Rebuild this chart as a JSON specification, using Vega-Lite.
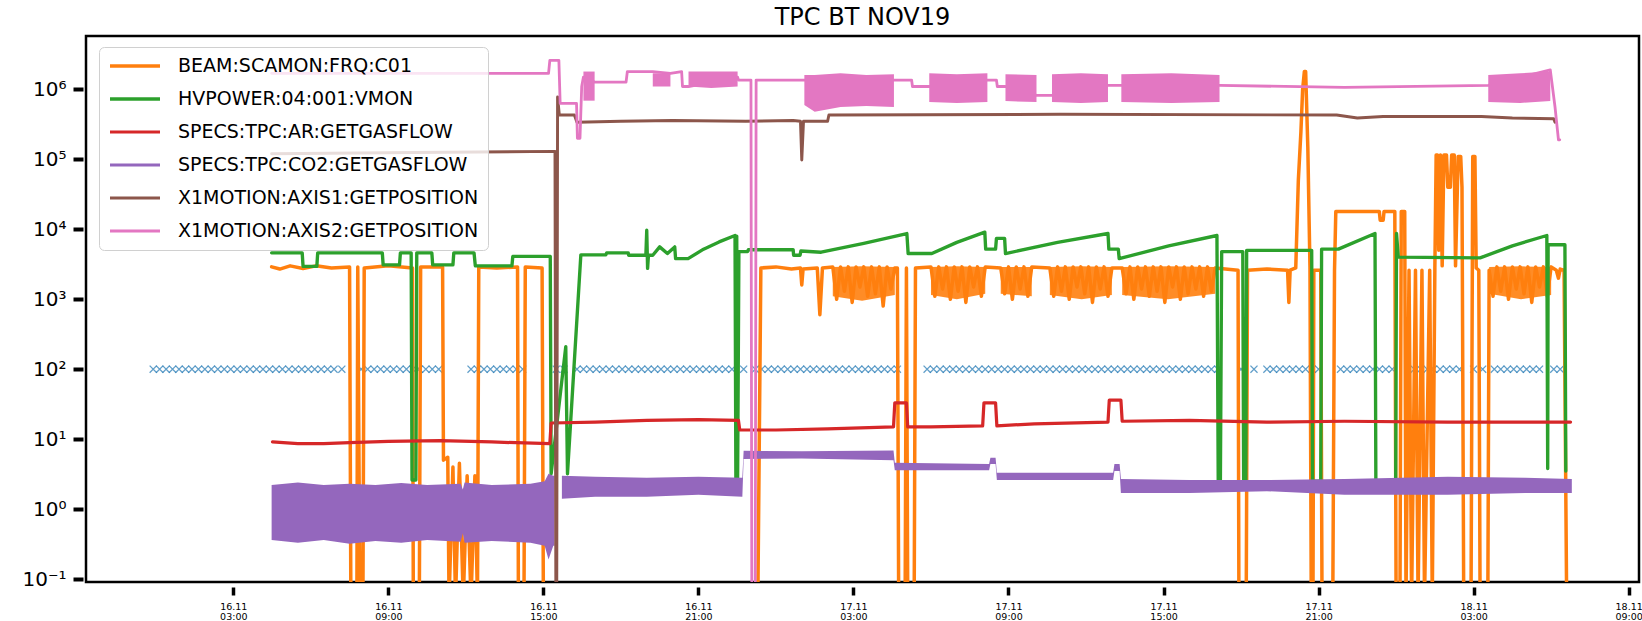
{
  "$schema": "https://vega.github.io/schema/vega-lite/v6.json",
  "width": 1553,
  "height": 546,
  "autosize": {"type": "none"},
  "padding": {"left": 86, "top": 36, "right": 3, "bottom": 39},
  "background": "white",
  "title": {"text": "TPC BT NOV19", "fontSize": 24, "font": "DejaVu Sans", "fontWeight": "normal", "color": "black", "offset": 6, "frame": "group", "anchor": "middle"},
  "config": {
    "view": {"stroke": "black", "strokeWidth": 2.5},
    "font": "DejaVu Sans",
    "legend": {
      "orient": "none", "legendX": 13, "legendY": 11,
      "symbolType": "stroke", "symbolSize": 2500, "symbolStrokeWidth": 3, "clipHeight": 20,
      "labelFontSize": 19, "labelFont": "DejaVu Sans", "labelColor": "black", "labelLimit": 600, "labelOffset": 16,
      "padding": 9, "rowPadding": 13,
      "strokeColor": "#d0d0d0", "fillColor": "rgba(255,255,255,0.8)", "cornerRadius": 5
    }
  },
  "datasets": {
    "lines": [
      {"s":"BEAM:SCAMON:FRQ:C01","t":"2019-11-16T04:29","v":2900},
      {"s":"BEAM:SCAMON:FRQ:C01","t":"2019-11-16T04:48","v":2700},
      {"s":"BEAM:SCAMON:FRQ:C01","t":"2019-11-16T05:12","v":3000},
      {"s":"BEAM:SCAMON:FRQ:C01","t":"2019-11-16T05:42","v":2750},
      {"s":"BEAM:SCAMON:FRQ:C01","t":"2019-11-16T06:12","v":3000},
      {"s":"BEAM:SCAMON:FRQ:C01","t":"2019-11-16T06:48","v":2800},
      {"s":"BEAM:SCAMON:FRQ:C01","t":"2019-11-16T07:30","v":2900},
      {"s":"BEAM:SCAMON:FRQ:C01","t":"2019-11-16T07:33","v":0.05},
      {"s":"BEAM:SCAMON:FRQ:C01","t":"2019-11-16T07:47","v":0.05},
      {"s":"BEAM:SCAMON:FRQ:C01","t":"2019-11-16T07:49","v":2900},
      {"s":"BEAM:SCAMON:FRQ:C01","t":"2019-11-16T07:54","v":0.05},
      {"s":"BEAM:SCAMON:FRQ:C01","t":"2019-11-16T08:01","v":0.05},
      {"s":"BEAM:SCAMON:FRQ:C01","t":"2019-11-16T08:04","v":2800},
      {"s":"BEAM:SCAMON:FRQ:C01","t":"2019-11-16T09:00","v":3000},
      {"s":"BEAM:SCAMON:FRQ:C01","t":"2019-11-16T09:56","v":2800},
      {"s":"BEAM:SCAMON:FRQ:C01","t":"2019-11-16T09:58","v":0.05},
      {"s":"BEAM:SCAMON:FRQ:C01","t":"2019-11-16T10:12","v":0.05},
      {"s":"BEAM:SCAMON:FRQ:C01","t":"2019-11-16T10:15","v":2900},
      {"s":"BEAM:SCAMON:FRQ:C01","t":"2019-11-16T11:06","v":2900},
      {"s":"BEAM:SCAMON:FRQ:C01","t":"2019-11-16T11:08","v":5},
      {"s":"BEAM:SCAMON:FRQ:C01","t":"2019-11-16T11:18","v":5.5},
      {"s":"BEAM:SCAMON:FRQ:C01","t":"2019-11-16T11:21","v":0.05},
      {"s":"BEAM:SCAMON:FRQ:C01","t":"2019-11-16T11:30","v":4},
      {"s":"BEAM:SCAMON:FRQ:C01","t":"2019-11-16T11:36","v":0.05},
      {"s":"BEAM:SCAMON:FRQ:C01","t":"2019-11-16T11:45","v":4.5},
      {"s":"BEAM:SCAMON:FRQ:C01","t":"2019-11-16T11:54","v":0.05},
      {"s":"BEAM:SCAMON:FRQ:C01","t":"2019-11-16T12:03","v":3},
      {"s":"BEAM:SCAMON:FRQ:C01","t":"2019-11-16T12:12","v":0.05},
      {"s":"BEAM:SCAMON:FRQ:C01","t":"2019-11-16T12:21","v":3},
      {"s":"BEAM:SCAMON:FRQ:C01","t":"2019-11-16T12:27","v":0.05},
      {"s":"BEAM:SCAMON:FRQ:C01","t":"2019-11-16T12:30","v":2900},
      {"s":"BEAM:SCAMON:FRQ:C01","t":"2019-11-16T13:12","v":2800},
      {"s":"BEAM:SCAMON:FRQ:C01","t":"2019-11-16T14:00","v":2900},
      {"s":"BEAM:SCAMON:FRQ:C01","t":"2019-11-16T14:02","v":0.05},
      {"s":"BEAM:SCAMON:FRQ:C01","t":"2019-11-16T14:15","v":0.05},
      {"s":"BEAM:SCAMON:FRQ:C01","t":"2019-11-16T14:18","v":2900},
      {"s":"BEAM:SCAMON:FRQ:C01","t":"2019-11-16T14:57","v":2800},
      {"s":"BEAM:SCAMON:FRQ:C01","t":"2019-11-16T15:00","v":0.05},
      {"s":"BEAM:SCAMON:FRQ:C01","t":"2019-11-16T23:18","v":0.05},
      {"s":"BEAM:SCAMON:FRQ:C01","t":"2019-11-16T23:25","v":2800},
      {"s":"BEAM:SCAMON:FRQ:C01","t":"2019-11-17T00:00","v":2900},
      {"s":"BEAM:SCAMON:FRQ:C01","t":"2019-11-17T00:36","v":2700},
      {"s":"BEAM:SCAMON:FRQ:C01","t":"2019-11-17T00:57","v":2800},
      {"s":"BEAM:SCAMON:FRQ:C01","t":"2019-11-17T01:00","v":1600},
      {"s":"BEAM:SCAMON:FRQ:C01","t":"2019-11-17T01:03","v":2700},
      {"s":"BEAM:SCAMON:FRQ:C01","t":"2019-11-17T01:36","v":2800},
      {"s":"BEAM:SCAMON:FRQ:C01","t":"2019-11-17T01:42","v":600},
      {"s":"BEAM:SCAMON:FRQ:C01","t":"2019-11-17T01:48","v":2800},
      {"s":"BEAM:SCAMON:FRQ:C01","t":"2019-11-17T02:12","v":2900},
      {"s":"BEAM:SCAMON:FRQ:C01","t":"2019-11-17T02:21","v":1000},
      {"s":"BEAM:SCAMON:FRQ:C01","t":"2019-11-17T02:30","v":2900},
      {"s":"BEAM:SCAMON:FRQ:C01","t":"2019-11-17T02:39","v":1300},
      {"s":"BEAM:SCAMON:FRQ:C01","t":"2019-11-17T02:48","v":2900},
      {"s":"BEAM:SCAMON:FRQ:C01","t":"2019-11-17T02:57","v":900},
      {"s":"BEAM:SCAMON:FRQ:C01","t":"2019-11-17T03:06","v":2900},
      {"s":"BEAM:SCAMON:FRQ:C01","t":"2019-11-17T03:15","v":1500},
      {"s":"BEAM:SCAMON:FRQ:C01","t":"2019-11-17T03:24","v":2900},
      {"s":"BEAM:SCAMON:FRQ:C01","t":"2019-11-17T03:33","v":1100},
      {"s":"BEAM:SCAMON:FRQ:C01","t":"2019-11-17T03:42","v":2900},
      {"s":"BEAM:SCAMON:FRQ:C01","t":"2019-11-17T03:51","v":1200},
      {"s":"BEAM:SCAMON:FRQ:C01","t":"2019-11-17T04:00","v":2900},
      {"s":"BEAM:SCAMON:FRQ:C01","t":"2019-11-17T04:09","v":800},
      {"s":"BEAM:SCAMON:FRQ:C01","t":"2019-11-17T04:18","v":2900},
      {"s":"BEAM:SCAMON:FRQ:C01","t":"2019-11-17T04:27","v":1400},
      {"s":"BEAM:SCAMON:FRQ:C01","t":"2019-11-17T04:36","v":2800},
      {"s":"BEAM:SCAMON:FRQ:C01","t":"2019-11-17T04:42","v":2800},
      {"s":"BEAM:SCAMON:FRQ:C01","t":"2019-11-17T04:45","v":0.05},
      {"s":"BEAM:SCAMON:FRQ:C01","t":"2019-11-17T05:00","v":0.05},
      {"s":"BEAM:SCAMON:FRQ:C01","t":"2019-11-17T05:03","v":2800},
      {"s":"BEAM:SCAMON:FRQ:C01","t":"2019-11-17T05:06","v":0.05},
      {"s":"BEAM:SCAMON:FRQ:C01","t":"2019-11-17T05:21","v":0.05},
      {"s":"BEAM:SCAMON:FRQ:C01","t":"2019-11-17T05:24","v":2800},
      {"s":"BEAM:SCAMON:FRQ:C01","t":"2019-11-17T06:00","v":2900},
      {"s":"BEAM:SCAMON:FRQ:C01","t":"2019-11-17T06:09","v":1100},
      {"s":"BEAM:SCAMON:FRQ:C01","t":"2019-11-17T06:18","v":2900},
      {"s":"BEAM:SCAMON:FRQ:C01","t":"2019-11-17T06:27","v":1400},
      {"s":"BEAM:SCAMON:FRQ:C01","t":"2019-11-17T06:36","v":2900},
      {"s":"BEAM:SCAMON:FRQ:C01","t":"2019-11-17T06:45","v":1000},
      {"s":"BEAM:SCAMON:FRQ:C01","t":"2019-11-17T06:54","v":2900},
      {"s":"BEAM:SCAMON:FRQ:C01","t":"2019-11-17T07:03","v":1300},
      {"s":"BEAM:SCAMON:FRQ:C01","t":"2019-11-17T07:12","v":2900},
      {"s":"BEAM:SCAMON:FRQ:C01","t":"2019-11-17T07:21","v":900},
      {"s":"BEAM:SCAMON:FRQ:C01","t":"2019-11-17T07:30","v":2900},
      {"s":"BEAM:SCAMON:FRQ:C01","t":"2019-11-17T07:39","v":1500},
      {"s":"BEAM:SCAMON:FRQ:C01","t":"2019-11-17T07:48","v":2900},
      {"s":"BEAM:SCAMON:FRQ:C01","t":"2019-11-17T07:57","v":1100},
      {"s":"BEAM:SCAMON:FRQ:C01","t":"2019-11-17T08:06","v":2900},
      {"s":"BEAM:SCAMON:FRQ:C01","t":"2019-11-17T08:42","v":2800},
      {"s":"BEAM:SCAMON:FRQ:C01","t":"2019-11-17T08:51","v":1200},
      {"s":"BEAM:SCAMON:FRQ:C01","t":"2019-11-17T09:00","v":2900},
      {"s":"BEAM:SCAMON:FRQ:C01","t":"2019-11-17T09:09","v":1000},
      {"s":"BEAM:SCAMON:FRQ:C01","t":"2019-11-17T09:18","v":2900},
      {"s":"BEAM:SCAMON:FRQ:C01","t":"2019-11-17T09:27","v":1400},
      {"s":"BEAM:SCAMON:FRQ:C01","t":"2019-11-17T09:36","v":2900},
      {"s":"BEAM:SCAMON:FRQ:C01","t":"2019-11-17T09:45","v":1100},
      {"s":"BEAM:SCAMON:FRQ:C01","t":"2019-11-17T09:54","v":2900},
      {"s":"BEAM:SCAMON:FRQ:C01","t":"2019-11-17T10:36","v":2800},
      {"s":"BEAM:SCAMON:FRQ:C01","t":"2019-11-17T10:45","v":1100},
      {"s":"BEAM:SCAMON:FRQ:C01","t":"2019-11-17T10:54","v":2900},
      {"s":"BEAM:SCAMON:FRQ:C01","t":"2019-11-17T11:03","v":1300},
      {"s":"BEAM:SCAMON:FRQ:C01","t":"2019-11-17T11:12","v":2900},
      {"s":"BEAM:SCAMON:FRQ:C01","t":"2019-11-17T11:21","v":1000},
      {"s":"BEAM:SCAMON:FRQ:C01","t":"2019-11-17T11:30","v":2900},
      {"s":"BEAM:SCAMON:FRQ:C01","t":"2019-11-17T11:39","v":1500},
      {"s":"BEAM:SCAMON:FRQ:C01","t":"2019-11-17T11:48","v":2900},
      {"s":"BEAM:SCAMON:FRQ:C01","t":"2019-11-17T11:57","v":1200},
      {"s":"BEAM:SCAMON:FRQ:C01","t":"2019-11-17T12:06","v":2900},
      {"s":"BEAM:SCAMON:FRQ:C01","t":"2019-11-17T12:15","v":900},
      {"s":"BEAM:SCAMON:FRQ:C01","t":"2019-11-17T12:24","v":2900},
      {"s":"BEAM:SCAMON:FRQ:C01","t":"2019-11-17T12:33","v":1400},
      {"s":"BEAM:SCAMON:FRQ:C01","t":"2019-11-17T12:42","v":2900},
      {"s":"BEAM:SCAMON:FRQ:C01","t":"2019-11-17T12:51","v":1100},
      {"s":"BEAM:SCAMON:FRQ:C01","t":"2019-11-17T13:00","v":2800},
      {"s":"BEAM:SCAMON:FRQ:C01","t":"2019-11-17T13:24","v":2800},
      {"s":"BEAM:SCAMON:FRQ:C01","t":"2019-11-17T13:33","v":1200},
      {"s":"BEAM:SCAMON:FRQ:C01","t":"2019-11-17T13:42","v":2900},
      {"s":"BEAM:SCAMON:FRQ:C01","t":"2019-11-17T13:51","v":1000},
      {"s":"BEAM:SCAMON:FRQ:C01","t":"2019-11-17T14:00","v":2900},
      {"s":"BEAM:SCAMON:FRQ:C01","t":"2019-11-17T14:09","v":1400},
      {"s":"BEAM:SCAMON:FRQ:C01","t":"2019-11-17T14:18","v":2900},
      {"s":"BEAM:SCAMON:FRQ:C01","t":"2019-11-17T14:27","v":1100},
      {"s":"BEAM:SCAMON:FRQ:C01","t":"2019-11-17T14:36","v":2900},
      {"s":"BEAM:SCAMON:FRQ:C01","t":"2019-11-17T14:45","v":1300},
      {"s":"BEAM:SCAMON:FRQ:C01","t":"2019-11-17T14:54","v":2900},
      {"s":"BEAM:SCAMON:FRQ:C01","t":"2019-11-17T15:03","v":900},
      {"s":"BEAM:SCAMON:FRQ:C01","t":"2019-11-17T15:12","v":2900},
      {"s":"BEAM:SCAMON:FRQ:C01","t":"2019-11-17T15:21","v":1500},
      {"s":"BEAM:SCAMON:FRQ:C01","t":"2019-11-17T15:30","v":2900},
      {"s":"BEAM:SCAMON:FRQ:C01","t":"2019-11-17T15:39","v":1000},
      {"s":"BEAM:SCAMON:FRQ:C01","t":"2019-11-17T15:48","v":2900},
      {"s":"BEAM:SCAMON:FRQ:C01","t":"2019-11-17T15:57","v":1200},
      {"s":"BEAM:SCAMON:FRQ:C01","t":"2019-11-17T16:06","v":2900},
      {"s":"BEAM:SCAMON:FRQ:C01","t":"2019-11-17T16:15","v":1400},
      {"s":"BEAM:SCAMON:FRQ:C01","t":"2019-11-17T16:24","v":2900},
      {"s":"BEAM:SCAMON:FRQ:C01","t":"2019-11-17T16:33","v":1100},
      {"s":"BEAM:SCAMON:FRQ:C01","t":"2019-11-17T16:42","v":2900},
      {"s":"BEAM:SCAMON:FRQ:C01","t":"2019-11-17T16:51","v":1300},
      {"s":"BEAM:SCAMON:FRQ:C01","t":"2019-11-17T17:00","v":2800},
      {"s":"BEAM:SCAMON:FRQ:C01","t":"2019-11-17T17:53","v":2600},
      {"s":"BEAM:SCAMON:FRQ:C01","t":"2019-11-17T17:55","v":0.05},
      {"s":"BEAM:SCAMON:FRQ:C01","t":"2019-11-17T18:12","v":0.05},
      {"s":"BEAM:SCAMON:FRQ:C01","t":"2019-11-17T18:15","v":2600},
      {"s":"BEAM:SCAMON:FRQ:C01","t":"2019-11-17T19:00","v":2700},
      {"s":"BEAM:SCAMON:FRQ:C01","t":"2019-11-17T19:48","v":2600},
      {"s":"BEAM:SCAMON:FRQ:C01","t":"2019-11-17T19:51","v":900},
      {"s":"BEAM:SCAMON:FRQ:C01","t":"2019-11-17T19:54","v":2600},
      {"s":"BEAM:SCAMON:FRQ:C01","t":"2019-11-17T20:07","v":2800},
      {"s":"BEAM:SCAMON:FRQ:C01","t":"2019-11-17T20:13","v":50000},
      {"s":"BEAM:SCAMON:FRQ:C01","t":"2019-11-17T20:19","v":250000},
      {"s":"BEAM:SCAMON:FRQ:C01","t":"2019-11-17T20:23","v":1000000},
      {"s":"BEAM:SCAMON:FRQ:C01","t":"2019-11-17T20:27","v":1800000},
      {"s":"BEAM:SCAMON:FRQ:C01","t":"2019-11-17T20:30","v":1800000},
      {"s":"BEAM:SCAMON:FRQ:C01","t":"2019-11-17T20:35","v":150000},
      {"s":"BEAM:SCAMON:FRQ:C01","t":"2019-11-17T20:40","v":2800},
      {"s":"BEAM:SCAMON:FRQ:C01","t":"2019-11-17T20:43","v":0.05},
      {"s":"BEAM:SCAMON:FRQ:C01","t":"2019-11-17T20:47","v":0.05},
      {"s":"BEAM:SCAMON:FRQ:C01","t":"2019-11-17T20:49","v":2600},
      {"s":"BEAM:SCAMON:FRQ:C01","t":"2019-11-17T21:05","v":2600},
      {"s":"BEAM:SCAMON:FRQ:C01","t":"2019-11-17T21:08","v":0.05},
      {"s":"BEAM:SCAMON:FRQ:C01","t":"2019-11-17T21:33","v":0.05},
      {"s":"BEAM:SCAMON:FRQ:C01","t":"2019-11-17T21:37","v":2600},
      {"s":"BEAM:SCAMON:FRQ:C01","t":"2019-11-17T21:40","v":18000},
      {"s":"BEAM:SCAMON:FRQ:C01","t":"2019-11-17T23:21","v":18000},
      {"s":"BEAM:SCAMON:FRQ:C01","t":"2019-11-17T23:23","v":13500},
      {"s":"BEAM:SCAMON:FRQ:C01","t":"2019-11-17T23:30","v":13500},
      {"s":"BEAM:SCAMON:FRQ:C01","t":"2019-11-17T23:32","v":18000},
      {"s":"BEAM:SCAMON:FRQ:C01","t":"2019-11-17T23:57","v":18000},
      {"s":"BEAM:SCAMON:FRQ:C01","t":"2019-11-18T00:00","v":0.05},
      {"s":"BEAM:SCAMON:FRQ:C01","t":"2019-11-18T00:09","v":0.05},
      {"s":"BEAM:SCAMON:FRQ:C01","t":"2019-11-18T00:12","v":18000},
      {"s":"BEAM:SCAMON:FRQ:C01","t":"2019-11-18T00:20","v":18000},
      {"s":"BEAM:SCAMON:FRQ:C01","t":"2019-11-18T00:23","v":0.05},
      {"s":"BEAM:SCAMON:FRQ:C01","t":"2019-11-18T00:30","v":2600},
      {"s":"BEAM:SCAMON:FRQ:C01","t":"2019-11-18T00:36","v":0.05},
      {"s":"BEAM:SCAMON:FRQ:C01","t":"2019-11-18T00:45","v":2600},
      {"s":"BEAM:SCAMON:FRQ:C01","t":"2019-11-18T00:51","v":0.05},
      {"s":"BEAM:SCAMON:FRQ:C01","t":"2019-11-18T01:00","v":2600},
      {"s":"BEAM:SCAMON:FRQ:C01","t":"2019-11-18T01:06","v":0.05},
      {"s":"BEAM:SCAMON:FRQ:C01","t":"2019-11-18T01:18","v":2600},
      {"s":"BEAM:SCAMON:FRQ:C01","t":"2019-11-18T01:24","v":0.05},
      {"s":"BEAM:SCAMON:FRQ:C01","t":"2019-11-18T01:30","v":2800},
      {"s":"BEAM:SCAMON:FRQ:C01","t":"2019-11-18T01:33","v":115000},
      {"s":"BEAM:SCAMON:FRQ:C01","t":"2019-11-18T01:36","v":115000},
      {"s":"BEAM:SCAMON:FRQ:C01","t":"2019-11-18T01:39","v":5000},
      {"s":"BEAM:SCAMON:FRQ:C01","t":"2019-11-18T01:43","v":115000},
      {"s":"BEAM:SCAMON:FRQ:C01","t":"2019-11-18T01:47","v":3000},
      {"s":"BEAM:SCAMON:FRQ:C01","t":"2019-11-18T01:51","v":115000},
      {"s":"BEAM:SCAMON:FRQ:C01","t":"2019-11-18T01:57","v":115000},
      {"s":"BEAM:SCAMON:FRQ:C01","t":"2019-11-18T02:00","v":40000},
      {"s":"BEAM:SCAMON:FRQ:C01","t":"2019-11-18T02:06","v":40000},
      {"s":"BEAM:SCAMON:FRQ:C01","t":"2019-11-18T02:09","v":115000},
      {"s":"BEAM:SCAMON:FRQ:C01","t":"2019-11-18T02:15","v":115000},
      {"s":"BEAM:SCAMON:FRQ:C01","t":"2019-11-18T02:18","v":3000},
      {"s":"BEAM:SCAMON:FRQ:C01","t":"2019-11-18T02:24","v":110000},
      {"s":"BEAM:SCAMON:FRQ:C01","t":"2019-11-18T02:30","v":110000},
      {"s":"BEAM:SCAMON:FRQ:C01","t":"2019-11-18T02:33","v":40000},
      {"s":"BEAM:SCAMON:FRQ:C01","t":"2019-11-18T02:37","v":0.05},
      {"s":"BEAM:SCAMON:FRQ:C01","t":"2019-11-18T02:54","v":0.05},
      {"s":"BEAM:SCAMON:FRQ:C01","t":"2019-11-18T02:58","v":110000},
      {"s":"BEAM:SCAMON:FRQ:C01","t":"2019-11-18T03:03","v":110000},
      {"s":"BEAM:SCAMON:FRQ:C01","t":"2019-11-18T03:06","v":2800},
      {"s":"BEAM:SCAMON:FRQ:C01","t":"2019-11-18T03:12","v":2600},
      {"s":"BEAM:SCAMON:FRQ:C01","t":"2019-11-18T03:15","v":0.05},
      {"s":"BEAM:SCAMON:FRQ:C01","t":"2019-11-18T03:33","v":0.05},
      {"s":"BEAM:SCAMON:FRQ:C01","t":"2019-11-18T03:36","v":2600},
      {"s":"BEAM:SCAMON:FRQ:C01","t":"2019-11-18T03:45","v":1100},
      {"s":"BEAM:SCAMON:FRQ:C01","t":"2019-11-18T03:54","v":2900},
      {"s":"BEAM:SCAMON:FRQ:C01","t":"2019-11-18T04:03","v":1300},
      {"s":"BEAM:SCAMON:FRQ:C01","t":"2019-11-18T04:12","v":2900},
      {"s":"BEAM:SCAMON:FRQ:C01","t":"2019-11-18T04:21","v":1000},
      {"s":"BEAM:SCAMON:FRQ:C01","t":"2019-11-18T04:30","v":2900},
      {"s":"BEAM:SCAMON:FRQ:C01","t":"2019-11-18T04:39","v":1400},
      {"s":"BEAM:SCAMON:FRQ:C01","t":"2019-11-18T04:48","v":2900},
      {"s":"BEAM:SCAMON:FRQ:C01","t":"2019-11-18T04:57","v":1200},
      {"s":"BEAM:SCAMON:FRQ:C01","t":"2019-11-18T05:06","v":2900},
      {"s":"BEAM:SCAMON:FRQ:C01","t":"2019-11-18T05:15","v":900},
      {"s":"BEAM:SCAMON:FRQ:C01","t":"2019-11-18T05:24","v":2900},
      {"s":"BEAM:SCAMON:FRQ:C01","t":"2019-11-18T05:33","v":1500},
      {"s":"BEAM:SCAMON:FRQ:C01","t":"2019-11-18T05:42","v":2900},
      {"s":"BEAM:SCAMON:FRQ:C01","t":"2019-11-18T05:51","v":1100},
      {"s":"BEAM:SCAMON:FRQ:C01","t":"2019-11-18T06:00","v":2900},
      {"s":"BEAM:SCAMON:FRQ:C01","t":"2019-11-18T06:12","v":2600},
      {"s":"BEAM:SCAMON:FRQ:C01","t":"2019-11-18T06:17","v":2000},
      {"s":"BEAM:SCAMON:FRQ:C01","t":"2019-11-18T06:21","v":2700},
      {"s":"BEAM:SCAMON:FRQ:C01","t":"2019-11-18T06:30","v":2600},
      {"s":"BEAM:SCAMON:FRQ:C01","t":"2019-11-18T06:36","v":0.05},

      {"s":"HVPOWER:04:001:VMON","t":"2019-11-16T04:29","v":4600},
      {"s":"HVPOWER:04:001:VMON","t":"2019-11-16T05:40","v":4600},
      {"s":"HVPOWER:04:001:VMON","t":"2019-11-16T05:42","v":2950},
      {"s":"HVPOWER:04:001:VMON","t":"2019-11-16T06:14","v":2950},
      {"s":"HVPOWER:04:001:VMON","t":"2019-11-16T06:16","v":4600},
      {"s":"HVPOWER:04:001:VMON","t":"2019-11-16T08:46","v":4600},
      {"s":"HVPOWER:04:001:VMON","t":"2019-11-16T08:48","v":3100},
      {"s":"HVPOWER:04:001:VMON","t":"2019-11-16T09:26","v":3100},
      {"s":"HVPOWER:04:001:VMON","t":"2019-11-16T09:28","v":4600},
      {"s":"HVPOWER:04:001:VMON","t":"2019-11-16T09:53","v":4600},
      {"s":"HVPOWER:04:001:VMON","t":"2019-11-16T09:55","v":2.6},
      {"s":"HVPOWER:04:001:VMON","t":"2019-11-16T10:04","v":2.6},
      {"s":"HVPOWER:04:001:VMON","t":"2019-11-16T10:06","v":4600},
      {"s":"HVPOWER:04:001:VMON","t":"2019-11-16T10:41","v":4600},
      {"s":"HVPOWER:04:001:VMON","t":"2019-11-16T10:43","v":3100},
      {"s":"HVPOWER:04:001:VMON","t":"2019-11-16T11:30","v":3100},
      {"s":"HVPOWER:04:001:VMON","t":"2019-11-16T11:32","v":4600},
      {"s":"HVPOWER:04:001:VMON","t":"2019-11-16T12:19","v":4600},
      {"s":"HVPOWER:04:001:VMON","t":"2019-11-16T12:22","v":3000},
      {"s":"HVPOWER:04:001:VMON","t":"2019-11-16T13:47","v":3000},
      {"s":"HVPOWER:04:001:VMON","t":"2019-11-16T13:49","v":4100},
      {"s":"HVPOWER:04:001:VMON","t":"2019-11-16T15:16","v":4100},
      {"s":"HVPOWER:04:001:VMON","t":"2019-11-16T15:18","v":3.2},
      {"s":"HVPOWER:04:001:VMON","t":"2019-11-16T15:52","v":210},
      {"s":"HVPOWER:04:001:VMON","t":"2019-11-16T15:56","v":3.2},
      {"s":"HVPOWER:04:001:VMON","t":"2019-11-16T16:27","v":4300},
      {"s":"HVPOWER:04:001:VMON","t":"2019-11-16T17:25","v":4300},
      {"s":"HVPOWER:04:001:VMON","t":"2019-11-16T17:27","v":4600},
      {"s":"HVPOWER:04:001:VMON","t":"2019-11-16T18:17","v":4600},
      {"s":"HVPOWER:04:001:VMON","t":"2019-11-16T18:18","v":4260},
      {"s":"HVPOWER:04:001:VMON","t":"2019-11-16T18:58","v":4260},
      {"s":"HVPOWER:04:001:VMON","t":"2019-11-16T19:00","v":9700},
      {"s":"HVPOWER:04:001:VMON","t":"2019-11-16T19:02","v":2760},
      {"s":"HVPOWER:04:001:VMON","t":"2019-11-16T19:04","v":4260},
      {"s":"HVPOWER:04:001:VMON","t":"2019-11-16T19:14","v":4260},
      {"s":"HVPOWER:04:001:VMON","t":"2019-11-16T19:30","v":5600},
      {"s":"HVPOWER:04:001:VMON","t":"2019-11-16T19:48","v":4500},
      {"s":"HVPOWER:04:001:VMON","t":"2019-11-16T20:05","v":5600},
      {"s":"HVPOWER:04:001:VMON","t":"2019-11-16T20:07","v":3800},
      {"s":"HVPOWER:04:001:VMON","t":"2019-11-16T20:36","v":3800},
      {"s":"HVPOWER:04:001:VMON","t":"2019-11-16T21:12","v":5200},
      {"s":"HVPOWER:04:001:VMON","t":"2019-11-16T21:48","v":6600},
      {"s":"HVPOWER:04:001:VMON","t":"2019-11-16T22:25","v":8150},
      {"s":"HVPOWER:04:001:VMON","t":"2019-11-16T22:27","v":2.5},
      {"s":"HVPOWER:04:001:VMON","t":"2019-11-16T22:29","v":8000},
      {"s":"HVPOWER:04:001:VMON","t":"2019-11-16T22:31","v":2.5},
      {"s":"HVPOWER:04:001:VMON","t":"2019-11-16T22:34","v":4800},
      {"s":"HVPOWER:04:001:VMON","t":"2019-11-16T22:54","v":4800},
      {"s":"HVPOWER:04:001:VMON","t":"2019-11-16T22:56","v":5100},
      {"s":"HVPOWER:04:001:VMON","t":"2019-11-17T00:40","v":5100},
      {"s":"HVPOWER:04:001:VMON","t":"2019-11-17T00:41","v":4260},
      {"s":"HVPOWER:04:001:VMON","t":"2019-11-17T00:56","v":4260},
      {"s":"HVPOWER:04:001:VMON","t":"2019-11-17T00:58","v":4900},
      {"s":"HVPOWER:04:001:VMON","t":"2019-11-17T01:45","v":4700},
      {"s":"HVPOWER:04:001:VMON","t":"2019-11-17T03:24","v":6300},
      {"s":"HVPOWER:04:001:VMON","t":"2019-11-17T05:04","v":8700},
      {"s":"HVPOWER:04:001:VMON","t":"2019-11-17T05:07","v":4500},
      {"s":"HVPOWER:04:001:VMON","t":"2019-11-17T06:02","v":4500},
      {"s":"HVPOWER:04:001:VMON","t":"2019-11-17T07:00","v":6500},
      {"s":"HVPOWER:04:001:VMON","t":"2019-11-17T08:05","v":9100},
      {"s":"HVPOWER:04:001:VMON","t":"2019-11-17T08:07","v":5200},
      {"s":"HVPOWER:04:001:VMON","t":"2019-11-17T08:30","v":5200},
      {"s":"HVPOWER:04:001:VMON","t":"2019-11-17T08:32","v":7400},
      {"s":"HVPOWER:04:001:VMON","t":"2019-11-17T08:51","v":7400},
      {"s":"HVPOWER:04:001:VMON","t":"2019-11-17T08:53","v":4500},
      {"s":"HVPOWER:04:001:VMON","t":"2019-11-17T10:54","v":6500},
      {"s":"HVPOWER:04:001:VMON","t":"2019-11-17T12:51","v":8700},
      {"s":"HVPOWER:04:001:VMON","t":"2019-11-17T12:53","v":5200},
      {"s":"HVPOWER:04:001:VMON","t":"2019-11-17T13:15","v":5200},
      {"s":"HVPOWER:04:001:VMON","t":"2019-11-17T13:17","v":3800},
      {"s":"HVPOWER:04:001:VMON","t":"2019-11-17T15:12","v":5800},
      {"s":"HVPOWER:04:001:VMON","t":"2019-11-17T17:04","v":8150},
      {"s":"HVPOWER:04:001:VMON","t":"2019-11-17T17:07","v":2.5},
      {"s":"HVPOWER:04:001:VMON","t":"2019-11-17T17:12","v":2.5},
      {"s":"HVPOWER:04:001:VMON","t":"2019-11-17T17:15","v":4800},
      {"s":"HVPOWER:04:001:VMON","t":"2019-11-17T18:04","v":4800},
      {"s":"HVPOWER:04:001:VMON","t":"2019-11-17T18:06","v":2.5},
      {"s":"HVPOWER:04:001:VMON","t":"2019-11-17T18:11","v":2.5},
      {"s":"HVPOWER:04:001:VMON","t":"2019-11-17T18:13","v":5000},
      {"s":"HVPOWER:04:001:VMON","t":"2019-11-17T20:44","v":5000},
      {"s":"HVPOWER:04:001:VMON","t":"2019-11-17T20:46","v":2.5},
      {"s":"HVPOWER:04:001:VMON","t":"2019-11-17T21:05","v":2.5},
      {"s":"HVPOWER:04:001:VMON","t":"2019-11-17T21:07","v":5200},
      {"s":"HVPOWER:04:001:VMON","t":"2019-11-17T21:46","v":5200},
      {"s":"HVPOWER:04:001:VMON","t":"2019-11-17T23:11","v":8700},
      {"s":"HVPOWER:04:001:VMON","t":"2019-11-17T23:13","v":2.5},
      {"s":"HVPOWER:04:001:VMON","t":"2019-11-17T23:59","v":2.5},
      {"s":"HVPOWER:04:001:VMON","t":"2019-11-18T00:01","v":8700},
      {"s":"HVPOWER:04:001:VMON","t":"2019-11-18T00:05","v":4000},
      {"s":"HVPOWER:04:001:VMON","t":"2019-11-18T03:15","v":3900},
      {"s":"HVPOWER:04:001:VMON","t":"2019-11-18T04:30","v":5800},
      {"s":"HVPOWER:04:001:VMON","t":"2019-11-18T05:50","v":8150},
      {"s":"HVPOWER:04:001:VMON","t":"2019-11-18T05:52","v":3.8},
      {"s":"HVPOWER:04:001:VMON","t":"2019-11-18T05:53","v":6000},
      {"s":"HVPOWER:04:001:VMON","t":"2019-11-18T06:32","v":6000},
      {"s":"HVPOWER:04:001:VMON","t":"2019-11-18T06:34","v":3.5},

      {"s":"SPECS:TPC:AR:GETGASFLOW","t":"2019-11-16T04:31","v":9.1},
      {"s":"SPECS:TPC:AR:GETGASFLOW","t":"2019-11-16T05:30","v":8.6},
      {"s":"SPECS:TPC:AR:GETGASFLOW","t":"2019-11-16T06:30","v":8.6},
      {"s":"SPECS:TPC:AR:GETGASFLOW","t":"2019-11-16T07:30","v":8.9},
      {"s":"SPECS:TPC:AR:GETGASFLOW","t":"2019-11-16T09:00","v":9.3},
      {"s":"SPECS:TPC:AR:GETGASFLOW","t":"2019-11-16T11:00","v":9.5},
      {"s":"SPECS:TPC:AR:GETGASFLOW","t":"2019-11-16T13:00","v":9.1},
      {"s":"SPECS:TPC:AR:GETGASFLOW","t":"2019-11-16T15:15","v":8.6},
      {"s":"SPECS:TPC:AR:GETGASFLOW","t":"2019-11-16T15:18","v":17},
      {"s":"SPECS:TPC:AR:GETGASFLOW","t":"2019-11-16T17:00","v":17.5},
      {"s":"SPECS:TPC:AR:GETGASFLOW","t":"2019-11-16T19:00","v":18.5},
      {"s":"SPECS:TPC:AR:GETGASFLOW","t":"2019-11-16T21:00","v":19},
      {"s":"SPECS:TPC:AR:GETGASFLOW","t":"2019-11-16T22:33","v":18.5},
      {"s":"SPECS:TPC:AR:GETGASFLOW","t":"2019-11-16T22:36","v":13.5},
      {"s":"SPECS:TPC:AR:GETGASFLOW","t":"2019-11-17T00:00","v":13.5},
      {"s":"SPECS:TPC:AR:GETGASFLOW","t":"2019-11-17T02:00","v":14},
      {"s":"SPECS:TPC:AR:GETGASFLOW","t":"2019-11-17T04:33","v":15},
      {"s":"SPECS:TPC:AR:GETGASFLOW","t":"2019-11-17T04:36","v":33},
      {"s":"SPECS:TPC:AR:GETGASFLOW","t":"2019-11-17T05:03","v":33},
      {"s":"SPECS:TPC:AR:GETGASFLOW","t":"2019-11-17T05:06","v":15},
      {"s":"SPECS:TPC:AR:GETGASFLOW","t":"2019-11-17T06:00","v":15},
      {"s":"SPECS:TPC:AR:GETGASFLOW","t":"2019-11-17T08:00","v":15.5},
      {"s":"SPECS:TPC:AR:GETGASFLOW","t":"2019-11-17T08:03","v":33},
      {"s":"SPECS:TPC:AR:GETGASFLOW","t":"2019-11-17T08:30","v":33},
      {"s":"SPECS:TPC:AR:GETGASFLOW","t":"2019-11-17T08:33","v":15.5},
      {"s":"SPECS:TPC:AR:GETGASFLOW","t":"2019-11-17T10:00","v":16.5},
      {"s":"SPECS:TPC:AR:GETGASFLOW","t":"2019-11-17T12:51","v":17.5},
      {"s":"SPECS:TPC:AR:GETGASFLOW","t":"2019-11-17T12:54","v":36},
      {"s":"SPECS:TPC:AR:GETGASFLOW","t":"2019-11-17T13:21","v":36},
      {"s":"SPECS:TPC:AR:GETGASFLOW","t":"2019-11-17T13:24","v":18},
      {"s":"SPECS:TPC:AR:GETGASFLOW","t":"2019-11-17T16:00","v":18.5},
      {"s":"SPECS:TPC:AR:GETGASFLOW","t":"2019-11-17T19:00","v":17.5},
      {"s":"SPECS:TPC:AR:GETGASFLOW","t":"2019-11-17T22:00","v":18},
      {"s":"SPECS:TPC:AR:GETGASFLOW","t":"2019-11-18T02:00","v":17.5},
      {"s":"SPECS:TPC:AR:GETGASFLOW","t":"2019-11-18T06:45","v":17.5},

      {"s":"X1MOTION:AXIS1:GETPOSITION","t":"2019-11-16T04:29","v":120000},
      {"s":"X1MOTION:AXIS1:GETPOSITION","t":"2019-11-16T10:00","v":125000},
      {"s":"X1MOTION:AXIS1:GETPOSITION","t":"2019-11-16T15:27","v":130000},
      {"s":"X1MOTION:AXIS1:GETPOSITION","t":"2019-11-16T15:29","v":0.05},
      {"s":"X1MOTION:AXIS1:GETPOSITION","t":"2019-11-16T15:31","v":0.05},
      {"s":"X1MOTION:AXIS1:GETPOSITION","t":"2019-11-16T15:33","v":780000},
      {"s":"X1MOTION:AXIS1:GETPOSITION","t":"2019-11-16T15:37","v":430000},
      {"s":"X1MOTION:AXIS1:GETPOSITION","t":"2019-11-16T16:12","v":430000},
      {"s":"X1MOTION:AXIS1:GETPOSITION","t":"2019-11-16T16:18","v":340000},
      {"s":"X1MOTION:AXIS1:GETPOSITION","t":"2019-11-16T18:00","v":350000},
      {"s":"X1MOTION:AXIS1:GETPOSITION","t":"2019-11-16T20:00","v":360000},
      {"s":"X1MOTION:AXIS1:GETPOSITION","t":"2019-11-16T22:50","v":350000},
      {"s":"X1MOTION:AXIS1:GETPOSITION","t":"2019-11-17T00:40","v":360000},
      {"s":"X1MOTION:AXIS1:GETPOSITION","t":"2019-11-17T00:57","v":350000},
      {"s":"X1MOTION:AXIS1:GETPOSITION","t":"2019-11-17T01:00","v":98000},
      {"s":"X1MOTION:AXIS1:GETPOSITION","t":"2019-11-17T01:04","v":350000},
      {"s":"X1MOTION:AXIS1:GETPOSITION","t":"2019-11-17T02:00","v":350000},
      {"s":"X1MOTION:AXIS1:GETPOSITION","t":"2019-11-17T02:03","v":430000},
      {"s":"X1MOTION:AXIS1:GETPOSITION","t":"2019-11-17T11:00","v":440000},
      {"s":"X1MOTION:AXIS1:GETPOSITION","t":"2019-11-17T21:42","v":430000},
      {"s":"X1MOTION:AXIS1:GETPOSITION","t":"2019-11-17T22:30","v":390000},
      {"s":"X1MOTION:AXIS1:GETPOSITION","t":"2019-11-17T23:30","v":410000},
      {"s":"X1MOTION:AXIS1:GETPOSITION","t":"2019-11-18T03:18","v":410000},
      {"s":"X1MOTION:AXIS1:GETPOSITION","t":"2019-11-18T04:30","v":390000},
      {"s":"X1MOTION:AXIS1:GETPOSITION","t":"2019-11-18T06:06","v":380000},
      {"s":"X1MOTION:AXIS1:GETPOSITION","t":"2019-11-18T06:09","v":340000},

      {"s":"X1MOTION:AXIS2:GETPOSITION","t":"2019-11-16T04:29","v":1700000},
      {"s":"X1MOTION:AXIS2:GETPOSITION","t":"2019-11-16T15:12","v":1700000},
      {"s":"X1MOTION:AXIS2:GETPOSITION","t":"2019-11-16T15:15","v":2600000},
      {"s":"X1MOTION:AXIS2:GETPOSITION","t":"2019-11-16T15:36","v":2600000},
      {"s":"X1MOTION:AXIS2:GETPOSITION","t":"2019-11-16T15:39","v":630000},
      {"s":"X1MOTION:AXIS2:GETPOSITION","t":"2019-11-16T16:17","v":630000},
      {"s":"X1MOTION:AXIS2:GETPOSITION","t":"2019-11-16T16:19","v":200000},
      {"s":"X1MOTION:AXIS2:GETPOSITION","t":"2019-11-16T16:25","v":200000},
      {"s":"X1MOTION:AXIS2:GETPOSITION","t":"2019-11-16T16:29","v":1100000},
      {"s":"X1MOTION:AXIS2:GETPOSITION","t":"2019-11-16T16:33","v":1500000},
      {"s":"X1MOTION:AXIS2:GETPOSITION","t":"2019-11-16T16:59","v":1270000},
      {"s":"X1MOTION:AXIS2:GETPOSITION","t":"2019-11-16T18:12","v":1270000},
      {"s":"X1MOTION:AXIS2:GETPOSITION","t":"2019-11-16T18:15","v":1800000},
      {"s":"X1MOTION:AXIS2:GETPOSITION","t":"2019-11-16T19:14","v":1800000},
      {"s":"X1MOTION:AXIS2:GETPOSITION","t":"2019-11-16T19:55","v":1700000},
      {"s":"X1MOTION:AXIS2:GETPOSITION","t":"2019-11-16T20:21","v":1800000},
      {"s":"X1MOTION:AXIS2:GETPOSITION","t":"2019-11-16T20:23","v":1100000},
      {"s":"X1MOTION:AXIS2:GETPOSITION","t":"2019-11-16T20:37","v":1100000},
      {"s":"X1MOTION:AXIS2:GETPOSITION","t":"2019-11-16T22:31","v":1500000},
      {"s":"X1MOTION:AXIS2:GETPOSITION","t":"2019-11-16T22:33","v":1360000},
      {"s":"X1MOTION:AXIS2:GETPOSITION","t":"2019-11-16T23:02","v":1360000},
      {"s":"X1MOTION:AXIS2:GETPOSITION","t":"2019-11-16T23:04","v":0.05},
      {"s":"X1MOTION:AXIS2:GETPOSITION","t":"2019-11-16T23:12","v":0.05},
      {"s":"X1MOTION:AXIS2:GETPOSITION","t":"2019-11-16T23:14","v":1360000},
      {"s":"X1MOTION:AXIS2:GETPOSITION","t":"2019-11-17T01:06","v":1360000},
      {"s":"X1MOTION:AXIS2:GETPOSITION","t":"2019-11-17T04:34","v":1360000},
      {"s":"X1MOTION:AXIS2:GETPOSITION","t":"2019-11-17T05:15","v":1360000},
      {"s":"X1MOTION:AXIS2:GETPOSITION","t":"2019-11-17T05:17","v":1100000},
      {"s":"X1MOTION:AXIS2:GETPOSITION","t":"2019-11-17T05:56","v":1100000},
      {"s":"X1MOTION:AXIS2:GETPOSITION","t":"2019-11-17T08:11","v":1360000},
      {"s":"X1MOTION:AXIS2:GETPOSITION","t":"2019-11-17T08:32","v":1360000},
      {"s":"X1MOTION:AXIS2:GETPOSITION","t":"2019-11-17T08:34","v":1100000},
      {"s":"X1MOTION:AXIS2:GETPOSITION","t":"2019-11-17T08:53","v":1100000},
      {"s":"X1MOTION:AXIS2:GETPOSITION","t":"2019-11-17T10:05","v":820000},
      {"s":"X1MOTION:AXIS2:GETPOSITION","t":"2019-11-17T10:41","v":820000},
      {"s":"X1MOTION:AXIS2:GETPOSITION","t":"2019-11-17T12:51","v":1140000},
      {"s":"X1MOTION:AXIS2:GETPOSITION","t":"2019-11-17T13:22","v":1140000},
      {"s":"X1MOTION:AXIS2:GETPOSITION","t":"2019-11-17T17:10","v":1140000},
      {"s":"X1MOTION:AXIS2:GETPOSITION","t":"2019-11-17T22:00","v":1070000},
      {"s":"X1MOTION:AXIS2:GETPOSITION","t":"2019-11-18T03:34","v":1140000},
      {"s":"X1MOTION:AXIS2:GETPOSITION","t":"2019-11-18T05:58","v":1900000},
      {"s":"X1MOTION:AXIS2:GETPOSITION","t":"2019-11-18T06:09","v":560000},
      {"s":"X1MOTION:AXIS2:GETPOSITION","t":"2019-11-18T06:17","v":190000},
      {"s":"X1MOTION:AXIS2:GETPOSITION","t":"2019-11-18T06:20","v":190000}
    ],
    "orangeband": [
      {"g":1,"t":"2019-11-17T02:12","lo":1100,"hi":2900},
      {"g":1,"t":"2019-11-17T03:20","lo":950,"hi":2950},
      {"g":1,"t":"2019-11-17T04:36","lo":1150,"hi":2900},
      {"g":2,"t":"2019-11-17T06:00","lo":1150,"hi":2900},
      {"g":2,"t":"2019-11-17T07:00","lo":1000,"hi":2950},
      {"g":2,"t":"2019-11-17T08:06","lo":1200,"hi":2900},
      {"g":3,"t":"2019-11-17T08:42","lo":1200,"hi":2900},
      {"g":3,"t":"2019-11-17T09:54","lo":1100,"hi":2900},
      {"g":4,"t":"2019-11-17T10:36","lo":1150,"hi":2900},
      {"g":4,"t":"2019-11-17T11:50","lo":1000,"hi":2950},
      {"g":4,"t":"2019-11-17T13:00","lo":1150,"hi":2900},
      {"g":5,"t":"2019-11-17T13:24","lo":1150,"hi":2900},
      {"g":5,"t":"2019-11-17T15:10","lo":1000,"hi":2950},
      {"g":5,"t":"2019-11-17T17:00","lo":1200,"hi":2900},
      {"g":6,"t":"2019-11-18T03:36","lo":1200,"hi":2900},
      {"g":6,"t":"2019-11-18T04:50","lo":1000,"hi":2950},
      {"g":6,"t":"2019-11-18T06:00","lo":1150,"hi":2900}
    ],
    "purple": [
      {"g":1,"t":"2019-11-16T04:29","lo":0.36,"hi":2.2},
      {"g":1,"t":"2019-11-16T05:30","lo":0.33,"hi":2.4},
      {"g":1,"t":"2019-11-16T06:30","lo":0.36,"hi":2.2},
      {"g":1,"t":"2019-11-16T07:30","lo":0.32,"hi":2.3},
      {"g":1,"t":"2019-11-16T08:30","lo":0.35,"hi":2.2},
      {"g":1,"t":"2019-11-16T09:30","lo":0.33,"hi":2.35},
      {"g":1,"t":"2019-11-16T10:30","lo":0.36,"hi":2.2},
      {"g":1,"t":"2019-11-16T11:48","lo":0.34,"hi":2.3},
      {"g":1,"t":"2019-11-16T11:53","lo":0.45,"hi":1.9},
      {"g":1,"t":"2019-11-16T11:57","lo":0.33,"hi":2.4},
      {"g":1,"t":"2019-11-16T13:00","lo":0.35,"hi":2.2},
      {"g":1,"t":"2019-11-16T14:30","lo":0.33,"hi":2.3},
      {"g":1,"t":"2019-11-16T15:03","lo":0.3,"hi":2.5},
      {"g":1,"t":"2019-11-16T15:12","lo":0.19,"hi":3.2},
      {"g":1,"t":"2019-11-16T15:23","lo":0.3,"hi":3.0},
      {"g":1,"t":"2019-11-16T15:26","lo":0.3,"hi":3.0},
      {"g":2,"t":"2019-11-16T15:43","lo":1.4,"hi":3.0},
      {"g":2,"t":"2019-11-16T17:00","lo":1.5,"hi":2.9},
      {"g":2,"t":"2019-11-16T19:00","lo":1.5,"hi":2.8},
      {"g":2,"t":"2019-11-16T21:00","lo":1.6,"hi":2.9},
      {"g":2,"t":"2019-11-16T22:42","lo":1.5,"hi":2.8},
      {"g":2,"t":"2019-11-16T22:45","lo":5.2,"hi":6.8},
      {"g":2,"t":"2019-11-17T01:00","lo":5.3,"hi":6.7},
      {"g":2,"t":"2019-11-17T04:33","lo":5.0,"hi":6.9},
      {"g":2,"t":"2019-11-17T04:36","lo":3.6,"hi":4.6},
      {"g":2,"t":"2019-11-17T08:15","lo":3.6,"hi":4.4},
      {"g":2,"t":"2019-11-17T08:18","lo":4.4,"hi":5.4},
      {"g":2,"t":"2019-11-17T08:30","lo":4.4,"hi":5.4},
      {"g":2,"t":"2019-11-17T08:33","lo":2.6,"hi":3.3},
      {"g":2,"t":"2019-11-17T13:03","lo":2.6,"hi":3.3},
      {"g":2,"t":"2019-11-17T13:06","lo":3.5,"hi":4.4},
      {"g":2,"t":"2019-11-17T13:18","lo":3.5,"hi":4.4},
      {"g":2,"t":"2019-11-17T13:21","lo":1.7,"hi":2.7},
      {"g":2,"t":"2019-11-17T16:00","lo":1.7,"hi":2.6},
      {"g":2,"t":"2019-11-17T19:00","lo":1.8,"hi":2.6},
      {"g":2,"t":"2019-11-17T22:00","lo":1.6,"hi":2.7},
      {"g":2,"t":"2019-11-18T02:00","lo":1.6,"hi":2.9},
      {"g":2,"t":"2019-11-18T05:00","lo":1.7,"hi":2.8},
      {"g":2,"t":"2019-11-18T06:48","lo":1.7,"hi":2.7}
    ],
    "pinkband": [
      {"g":"a","t":"2019-11-16T16:33","lo":690000,"hi":1800000},
      {"g":"a","t":"2019-11-16T16:59","lo":690000,"hi":1800000},
      {"g":"b","t":"2019-11-16T19:14","lo":1100000,"hi":1700000},
      {"g":"b","t":"2019-11-16T19:55","lo":1100000,"hi":1700000},
      {"g":"c","t":"2019-11-16T20:37","lo":1100000,"hi":1800000},
      {"g":"c","t":"2019-11-16T21:30","lo":1050000,"hi":1800000},
      {"g":"c","t":"2019-11-16T22:31","lo":1100000,"hi":1800000},
      {"g":"d","t":"2019-11-17T01:06","lo":600000,"hi":1600000},
      {"g":"d","t":"2019-11-17T01:30","lo":480000,"hi":1600000},
      {"g":"d","t":"2019-11-17T02:30","lo":560000,"hi":1700000},
      {"g":"d","t":"2019-11-17T03:30","lo":580000,"hi":1600000},
      {"g":"d","t":"2019-11-17T04:34","lo":560000,"hi":1650000},
      {"g":"e","t":"2019-11-17T05:56","lo":660000,"hi":1700000},
      {"g":"e","t":"2019-11-17T07:00","lo":640000,"hi":1650000},
      {"g":"e","t":"2019-11-17T08:11","lo":660000,"hi":1700000},
      {"g":"f","t":"2019-11-17T08:53","lo":680000,"hi":1650000},
      {"g":"f","t":"2019-11-17T10:05","lo":660000,"hi":1600000},
      {"g":"g","t":"2019-11-17T10:41","lo":660000,"hi":1650000},
      {"g":"g","t":"2019-11-17T11:48","lo":640000,"hi":1700000},
      {"g":"g","t":"2019-11-17T12:51","lo":660000,"hi":1650000},
      {"g":"h","t":"2019-11-17T13:22","lo":660000,"hi":1650000},
      {"g":"h","t":"2019-11-17T15:18","lo":640000,"hi":1700000},
      {"g":"h","t":"2019-11-17T17:10","lo":660000,"hi":1600000},
      {"g":"i","t":"2019-11-18T03:34","lo":660000,"hi":1600000},
      {"g":"i","t":"2019-11-18T04:48","lo":640000,"hi":1700000},
      {"g":"i","t":"2019-11-18T05:58","lo":680000,"hi":1800000}
    ],
    "marks": [
      {"t":"2019-11-15T23:54"},{"t":"2019-11-16T00:09"},{"t":"2019-11-16T00:24"},{"t":"2019-11-16T00:39"},{"t":"2019-11-16T00:54"},
      {"t":"2019-11-16T01:09"},{"t":"2019-11-16T01:24"},{"t":"2019-11-16T01:39"},{"t":"2019-11-16T01:54"},{"t":"2019-11-16T02:09"},
      {"t":"2019-11-16T02:24"},{"t":"2019-11-16T02:39"},{"t":"2019-11-16T02:54"},{"t":"2019-11-16T03:09"},{"t":"2019-11-16T03:24"},
      {"t":"2019-11-16T03:39"},{"t":"2019-11-16T03:54"},{"t":"2019-11-16T04:09"},{"t":"2019-11-16T04:24"},{"t":"2019-11-16T04:39"},
      {"t":"2019-11-16T04:54"},{"t":"2019-11-16T05:09"},{"t":"2019-11-16T05:24"},{"t":"2019-11-16T05:39"},{"t":"2019-11-16T05:54"},
      {"t":"2019-11-16T06:09"},{"t":"2019-11-16T06:24"},{"t":"2019-11-16T06:39"},{"t":"2019-11-16T06:54"},
      {"t":"2019-11-16T07:12"},
      {"t":"2019-11-16T07:57"},{"t":"2019-11-16T08:12"},{"t":"2019-11-16T08:27"},{"t":"2019-11-16T08:42"},{"t":"2019-11-16T08:57"},
      {"t":"2019-11-16T09:12"},{"t":"2019-11-16T09:27"},{"t":"2019-11-16T09:42"},{"t":"2019-11-16T09:57"},{"t":"2019-11-16T10:12"},
      {"t":"2019-11-16T10:27"},{"t":"2019-11-16T10:42"},{"t":"2019-11-16T10:57"},
      {"t":"2019-11-16T12:12"},{"t":"2019-11-16T12:27"},{"t":"2019-11-16T12:42"},{"t":"2019-11-16T12:57"},{"t":"2019-11-16T13:12"},
      {"t":"2019-11-16T13:27"},{"t":"2019-11-16T13:42"},{"t":"2019-11-16T13:57"},{"t":"2019-11-16T14:12"},
      {"t":"2019-11-16T15:30"},{"t":"2019-11-16T15:48"},
      {"t":"2019-11-16T16:18"},{"t":"2019-11-16T16:33"},{"t":"2019-11-16T16:48"},{"t":"2019-11-16T17:03"},{"t":"2019-11-16T17:18"},
      {"t":"2019-11-16T17:33"},{"t":"2019-11-16T17:48"},{"t":"2019-11-16T18:03"},{"t":"2019-11-16T18:18"},{"t":"2019-11-16T18:33"},
      {"t":"2019-11-16T18:48"},{"t":"2019-11-16T19:03"},{"t":"2019-11-16T19:18"},{"t":"2019-11-16T19:33"},{"t":"2019-11-16T19:48"},
      {"t":"2019-11-16T20:03"},{"t":"2019-11-16T20:18"},{"t":"2019-11-16T20:33"},{"t":"2019-11-16T20:48"},{"t":"2019-11-16T21:03"},
      {"t":"2019-11-16T21:18"},{"t":"2019-11-16T21:33"},{"t":"2019-11-16T21:48"},{"t":"2019-11-16T22:03"},{"t":"2019-11-16T22:18"},
      {"t":"2019-11-16T22:45"},
      {"t":"2019-11-16T23:12"},{"t":"2019-11-16T23:27"},{"t":"2019-11-16T23:42"},{"t":"2019-11-16T23:57"},{"t":"2019-11-17T00:12"},
      {"t":"2019-11-17T00:27"},{"t":"2019-11-17T00:42"},{"t":"2019-11-17T00:57"},{"t":"2019-11-17T01:12"},{"t":"2019-11-17T01:27"},
      {"t":"2019-11-17T01:42"},{"t":"2019-11-17T01:57"},{"t":"2019-11-17T02:12"},{"t":"2019-11-17T02:27"},{"t":"2019-11-17T02:42"},
      {"t":"2019-11-17T02:57"},{"t":"2019-11-17T03:12"},{"t":"2019-11-17T03:27"},{"t":"2019-11-17T03:42"},{"t":"2019-11-17T03:57"},
      {"t":"2019-11-17T04:12"},{"t":"2019-11-17T04:27"},{"t":"2019-11-17T04:42"},
      {"t":"2019-11-17T05:51"},{"t":"2019-11-17T06:06"},{"t":"2019-11-17T06:21"},{"t":"2019-11-17T06:36"},{"t":"2019-11-17T06:51"},
      {"t":"2019-11-17T07:06"},{"t":"2019-11-17T07:21"},{"t":"2019-11-17T07:36"},{"t":"2019-11-17T07:51"},{"t":"2019-11-17T08:06"},
      {"t":"2019-11-17T08:21"},{"t":"2019-11-17T08:36"},{"t":"2019-11-17T08:51"},{"t":"2019-11-17T09:06"},{"t":"2019-11-17T09:21"},
      {"t":"2019-11-17T09:36"},{"t":"2019-11-17T09:51"},{"t":"2019-11-17T10:06"},{"t":"2019-11-17T10:21"},{"t":"2019-11-17T10:36"},
      {"t":"2019-11-17T10:51"},{"t":"2019-11-17T11:06"},{"t":"2019-11-17T11:21"},{"t":"2019-11-17T11:36"},{"t":"2019-11-17T11:51"},
      {"t":"2019-11-17T12:06"},{"t":"2019-11-17T12:21"},{"t":"2019-11-17T12:36"},{"t":"2019-11-17T12:51"},{"t":"2019-11-17T13:06"},
      {"t":"2019-11-17T13:21"},{"t":"2019-11-17T13:36"},{"t":"2019-11-17T13:51"},{"t":"2019-11-17T14:06"},{"t":"2019-11-17T14:21"},
      {"t":"2019-11-17T14:36"},{"t":"2019-11-17T14:51"},{"t":"2019-11-17T15:06"},{"t":"2019-11-17T15:21"},{"t":"2019-11-17T15:36"},
      {"t":"2019-11-17T15:51"},{"t":"2019-11-17T16:06"},{"t":"2019-11-17T16:21"},{"t":"2019-11-17T16:36"},{"t":"2019-11-17T16:51"},
      {"t":"2019-11-17T17:06"},
      {"t":"2019-11-17T18:00"},{"t":"2019-11-17T18:30"},
      {"t":"2019-11-17T19:00"},{"t":"2019-11-17T19:15"},{"t":"2019-11-17T19:30"},{"t":"2019-11-17T19:45"},{"t":"2019-11-17T20:00"},
      {"t":"2019-11-17T20:15"},{"t":"2019-11-17T20:30"},{"t":"2019-11-17T20:45"},{"t":"2019-11-17T21:00"},
      {"t":"2019-11-17T21:51"},{"t":"2019-11-17T22:06"},{"t":"2019-11-17T22:21"},{"t":"2019-11-17T22:36"},{"t":"2019-11-17T22:51"},
      {"t":"2019-11-17T23:06"},{"t":"2019-11-17T23:21"},{"t":"2019-11-17T23:36"},{"t":"2019-11-17T23:51"},
      {"t":"2019-11-18T00:42"},{"t":"2019-11-18T00:57"},{"t":"2019-11-18T01:12"},{"t":"2019-11-18T01:27"},{"t":"2019-11-18T01:42"},
      {"t":"2019-11-18T01:57"},{"t":"2019-11-18T02:12"},{"t":"2019-11-18T02:27"},
      {"t":"2019-11-18T03:00"},{"t":"2019-11-18T03:21"},
      {"t":"2019-11-18T03:48"},{"t":"2019-11-18T04:03"},{"t":"2019-11-18T04:18"},{"t":"2019-11-18T04:33"},{"t":"2019-11-18T04:48"},
      {"t":"2019-11-18T05:03"},{"t":"2019-11-18T05:18"},{"t":"2019-11-18T05:33"},
      {"t":"2019-11-18T06:06"},{"t":"2019-11-18T06:21"}
    ]
  },
  "encoding": {
    "x": {
      "field": "t", "type": "temporal",
      "scale": {"domain": [{"year": 2019, "month": 11, "date": 15, "hours": 21, "minutes": 18}, {"year": 2019, "month": 11, "date": 18, "hours": 9, "minutes": 24}]},
      "axis": {
        "title": null, "grid": false, "domain": false, "offset": 5,
        "values": [
          {"year": 2019, "month": 11, "date": 16, "hours": 3},
          {"year": 2019, "month": 11, "date": 16, "hours": 9},
          {"year": 2019, "month": 11, "date": 16, "hours": 15},
          {"year": 2019, "month": 11, "date": 16, "hours": 21},
          {"year": 2019, "month": 11, "date": 17, "hours": 3},
          {"year": 2019, "month": 11, "date": 17, "hours": 9},
          {"year": 2019, "month": 11, "date": 17, "hours": 15},
          {"year": 2019, "month": 11, "date": 17, "hours": 21},
          {"year": 2019, "month": 11, "date": 18, "hours": 3},
          {"year": 2019, "month": 11, "date": 18, "hours": 9}
        ],
        "labelExpr": "[timeFormat(datum.value, '%d.%m'), timeFormat(datum.value, '%H:%M')]",
        "tickSize": 8, "tickWidth": 3.5, "tickColor": "black",
        "labelFontSize": 9.5, "labelLineHeight": 10, "labelPadding": 6, "labelColor": "black",
        "labelFlush": false, "labelOverlap": false
      }
    }
  },
  "layer": [
    {
      "data": {"name": "marks"},
      "mark": {"type": "point", "shape": "M-1,-1L1,1M1,-1L-1,1", "filled": false, "size": 50, "strokeWidth": 1.3, "color": "#1f77b4", "clip": true},
      "encoding": {
        "y": {
          "datum": 100, "type": "quantitative",
          "scale": {"type": "log", "domain": [0.0906, 5800000]},
          "axis": {
            "title": null, "grid": false, "domain": false, "offset": 3,
            "values": [0.1, 1, 10, 100, 1000, 10000, 100000, 1000000],
            "labelExpr": "['10⁻¹','10⁰','10¹','10²','10³','10⁴','10⁵','10⁶'][round(log(datum.value)/LN10)+1]",
            "tickSize": 10, "tickWidth": 4, "tickColor": "black",
            "labelFontSize": 20, "labelPadding": 7, "labelColor": "black", "labelFont": "DejaVu Sans"
          }
        }
      }
    },
    {
      "data": {"name": "orangeband"},
      "mark": {"type": "area", "color": "#ff7f0e", "opacity": 0.9, "clip": true},
      "encoding": {
        "y": {"field": "lo", "type": "quantitative", "scale": {"type": "log", "domain": [0.0906, 5800000]}},
        "y2": {"field": "hi"},
        "detail": {"field": "g", "type": "nominal"}
      }
    },
    {
      "data": {"name": "lines"},
      "transform": [{"filter": {"field": "s", "oneOf": ["BEAM:SCAMON:FRQ:C01", "HVPOWER:04:001:VMON", "SPECS:TPC:AR:GETGASFLOW"]}}],
      "mark": {"type": "line", "strokeCap": "round", "strokeJoin": "round", "clip": true},
      "encoding": {
        "y": {"field": "v", "type": "quantitative", "scale": {"type": "log", "domain": [0.0906, 5800000]}},
        "color": {
          "field": "s", "type": "nominal",
          "scale": {
            "domain": ["BEAM:SCAMON:FRQ:C01", "HVPOWER:04:001:VMON", "SPECS:TPC:AR:GETGASFLOW", "SPECS:TPC:CO2:GETGASFLOW", "X1MOTION:AXIS1:GETPOSITION", "X1MOTION:AXIS2:GETPOSITION"],
            "range": ["#ff7f0e", "#2ca02c", "#d62728", "#9467bd", "#8c564b", "#e377c2"]
          },
          "legend": {"title": null}
        },
        "strokeWidth": {
          "field": "s", "type": "nominal",
          "scale": {
            "domain": ["BEAM:SCAMON:FRQ:C01", "HVPOWER:04:001:VMON", "SPECS:TPC:AR:GETGASFLOW", "SPECS:TPC:CO2:GETGASFLOW", "X1MOTION:AXIS1:GETPOSITION", "X1MOTION:AXIS2:GETPOSITION"],
            "range": [3.5, 2.8, 2.5, 2.8, 3, 2.8]
          },
          "legend": null
        }
      }
    },
    {
      "data": {"name": "purple"},
      "mark": {"type": "area", "color": "#9467bd", "opacity": 1, "clip": true},
      "encoding": {
        "y": {"field": "lo", "type": "quantitative", "scale": {"type": "log", "domain": [0.0906, 5800000]}},
        "y2": {"field": "hi"},
        "detail": {"field": "g", "type": "nominal"}
      }
    },
    {
      "data": {"name": "lines"},
      "transform": [{"filter": {"field": "s", "oneOf": ["X1MOTION:AXIS1:GETPOSITION", "X1MOTION:AXIS2:GETPOSITION"]}}],
      "mark": {"type": "line", "strokeCap": "round", "strokeJoin": "round", "clip": true},
      "encoding": {
        "y": {"field": "v", "type": "quantitative", "scale": {"type": "log", "domain": [0.0906, 5800000]}},
        "color": {"field": "s", "type": "nominal"},
        "strokeWidth": {"field": "s", "type": "nominal", "legend": null}
      }
    },
    {
      "data": {"name": "pinkband"},
      "mark": {"type": "area", "color": "#e377c2", "opacity": 1, "clip": true},
      "encoding": {
        "y": {"field": "lo", "type": "quantitative", "scale": {"type": "log", "domain": [0.0906, 5800000]}},
        "y2": {"field": "hi"},
        "detail": {"field": "g", "type": "nominal"}
      }
    }
  ]
}
